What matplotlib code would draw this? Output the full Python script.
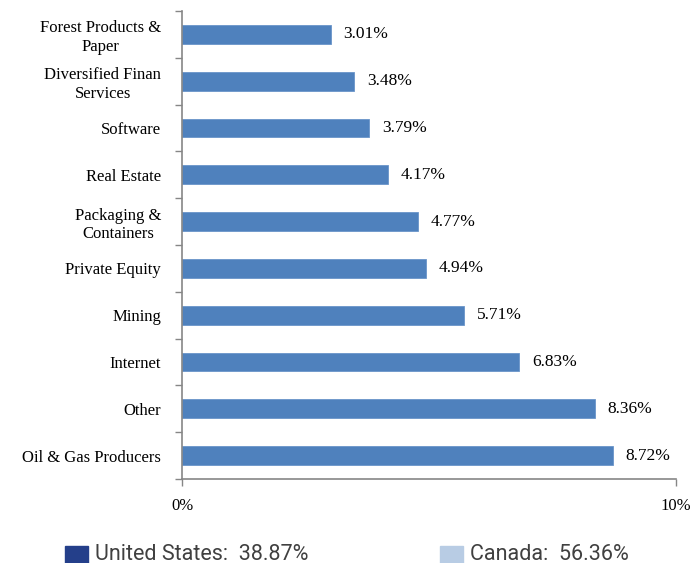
import matplotlib.pyplot as plt
from matplotlib.patches import Rectangle

categories = ['Forest Products &\nPaper', 'Diversified Finan\nServices', 'Software',
              'Real Estate', 'Packaging &\nContainers', 'Private Equity', 'Mining',
              'Internet', 'Other', 'Oil & Gas Producers']
values = [3.01, 3.48, 3.79, 4.17, 4.77, 4.94, 5.71, 6.83, 8.36, 8.72]
legend_labels = ['United States:  38.87%', 'Canada:  56.36%']
legend_colors = ['#243f8a', '#b8cce4']

bar_color = '#4f81bd'
axis_color = '#868686'

fig = plt.figure(figsize=(6.91, 5.63), dpi=100)
ax = fig.add_axes([182/691, 1 - 479/563, 494/691, 468/563])

n = len(categories)
ypos = list(range(n))
ax.barh(ypos, values, height=0.40, color=bar_color, edgecolor='#6a95c9', linewidth=0.6)
ax.set_xlim(0, 10)
ax.set_ylim(n - 0.5, -0.5)

for y, v in zip(ypos, values):
    ax.text(v + 0.26, y, f'{v:.2f}%', va='center', ha='left',
            family='Liberation Serif', fontsize=12.5)

# category labels between tick marks (ticks at band edges)
ax.set_yticks([i - 0.5 for i in range(n + 1)])
ax.set_yticklabels([])
ax.set_yticks(ypos, minor=True)
ax.set_yticklabels(categories, minor=True, family='Liberation Serif', fontsize=12,
                   ha='right', multialignment='center', linespacing=1.2)
ax.tick_params(axis='y', which='major', length=5, color=axis_color, width=1)
ax.tick_params(axis='y', which='minor', length=0, pad=15)

ax.set_xticks([0, 10])
ax.set_xticklabels(['0%', '10%'], family='Liberation Serif', fontsize=12)
ax.tick_params(axis='x', length=5, color=axis_color, width=1, pad=9)

for s in ['top', 'right']:
    ax.spines[s].set_visible(False)
for s in ['left', 'bottom']:
    ax.spines[s].set_color(axis_color)
    ax.spines[s].set_linewidth(1.2)

# legend drawn as boxes and text along the bottom
for x0, lab, col in zip([65, 440], legend_labels, legend_colors):
    fig.patches.append(Rectangle((x0/691, 0), 23/691, 17/563,
                                 transform=fig.transFigure, color=col))
    fig.text((x0 + 30)/691, 1 - 554/563, lab, va='center', ha='left',
             family=['Liberation Sans Narrow', 'Roboto'], fontsize=15.5, color='#404040')

fig.savefig('out.png', dpi=100)
